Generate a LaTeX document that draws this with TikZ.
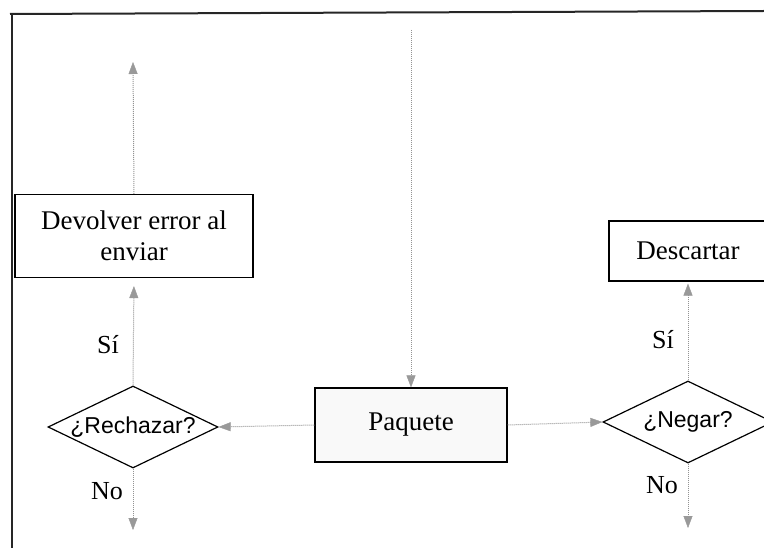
\documentclass[tikz,border=0pt]{standalone}
\usepackage{fontspec}
\setmainfont{Liberation Serif}
\newfontfamily\dsans{Liberation Sans}
\usetikzlibrary{shapes.geometric,arrows.meta}
\tikzset{
  boxnode/.style={draw=black, line width=1.2pt, inner sep=0pt, align=center, font=\fontsize{27}{31}\selectfont},
  decision/.style={diamond, draw=black, line width=1.2pt, inner sep=0pt, aspect=2,
    minimum width=170pt, minimum height=82pt},
  dtext/.style={font=\dsans\fontsize{23}{26}\selectfont, inner sep=0pt},
  flow/.style={draw=gray!85, line width=1pt, densely dotted, -{Triangle[length=12pt,width=9pt,color=gray!80,fill=gray!80,line width=0.4pt]}},
  lbl/.style={font=\fontsize{26}{29}\selectfont, inner sep=0pt},
  frame/.style={draw=black!85, line width=2pt}
}
\begin{document}
\begin{tikzpicture}[x=1pt,y=-1pt]
\useasboundingbox (0,0) rectangle (764,548);
\clip (0,0) rectangle (764,548);
% frame
\draw[frame] (10,14) -- (764,11);
\draw[frame] (12,14) -- (12,548);
% nodes
\node[boxnode, minimum width=238pt, minimum height=83pt] (dev) at (134,236) {Devolver error al\\enviar};
\node[boxnode, minimum width=158pt, minimum height=60pt] (desc) at (688,251) {Descartar};
\node[boxnode, fill=gray!5, minimum width=192pt, minimum height=74pt] (paq) at (411,425) {Paquete};
\node[decision, label={[dtext]center:¿Rechazar?}] (rech) at (133,427) {};
\node[decision, label={[dtext]center:¿Negar?}] (neg) at (688,422) {};
% free ends
\coordinate (topin) at (411,30);
\coordinate (devup) at (133,62);
\coordinate (rno) at (133,530);
\coordinate (nno) at (688,528);
% connectors
\draw[flow] (topin) -- (paq.north);
\draw[flow] (dev.north) -- (devup);
\draw[flow] (paq.west) -- (rech.east);
\draw[flow] (paq.east) -- (neg.west);
\draw[flow, shorten >=8pt] (rech.north) -- (dev.south);
\draw[flow, shorten >=2pt] (neg.north) -- (desc.south);
\draw[flow] (rech.south) -- (rno);
\draw[flow] (neg.south) -- (nno);
% labels
\node[lbl] (s1) at (108,345) {Sí};
\node[lbl] (n1) at (107,491) {No};
\node[lbl] (s2) at (663,340) {Sí};
\node[lbl] (n2) at (662,485) {No};
\end{tikzpicture}
\end{document}
